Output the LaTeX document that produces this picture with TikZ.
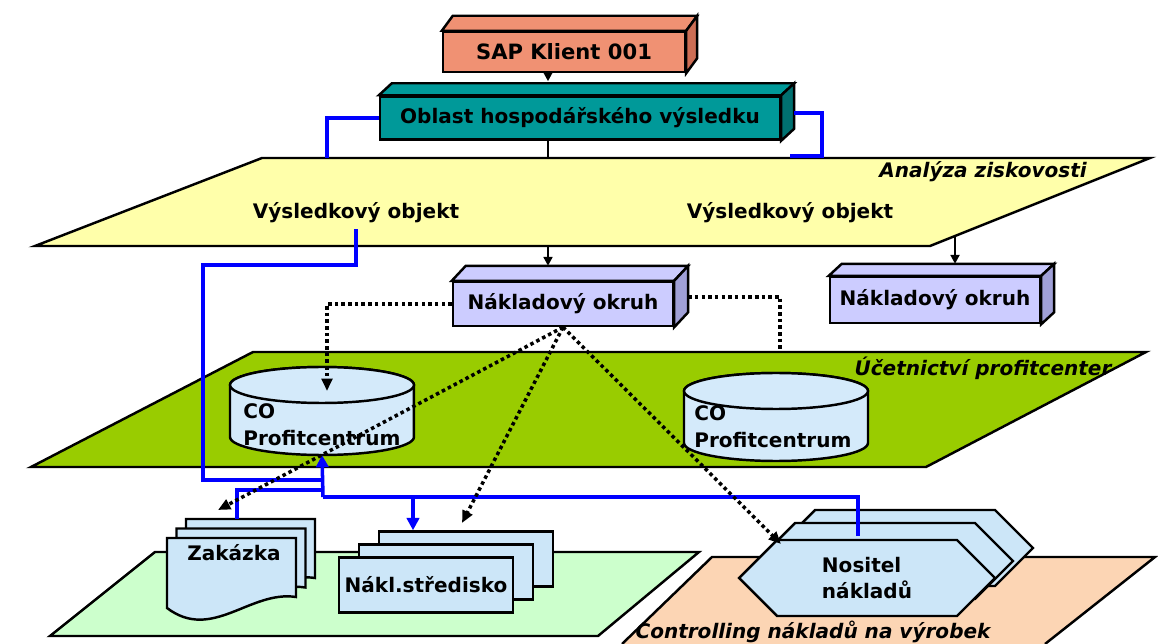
\documentclass[tikz,border=0pt]{standalone}
\usepackage{fontspec}
\setmainfont{DejaVu Sans}[BoldFont={DejaVu Sans Bold}, ItalicFont={DejaVu Sans Oblique}, BoldItalicFont={DejaVu Sans Bold Oblique}]
\usepackage{xcolor}
\usepackage{tikz}
\usetikzlibrary{shapes.symbols, arrows.meta, calc}
\definecolor{sapfill}{RGB}{240,145,115}
\definecolor{sapside}{RGB}{205,110,85}
\definecolor{oblfill}{RGB}{0,153,153}
\definecolor{oblside}{RGB}{0,112,112}
\definecolor{yelplane}{RGB}{255,255,170}
\definecolor{okfill}{RGB}{204,204,255}
\definecolor{okside}{RGB}{160,160,215}
\definecolor{grnplane}{RGB}{153,204,0}
\definecolor{cylfill}{RGB}{212,234,250}
\definecolor{ltgrnplane}{RGB}{204,255,204}
\definecolor{salplane}{RGB}{252,213,180}
\definecolor{docfill}{RGB}{204,230,248}
\definecolor{linkblue}{RGB}{0,0,255}
\tikzset{
  cube/.style={rectangle, draw=black, line width=1.4pt, align=center, inner sep=0pt,
               font=\fontsize{11.4}{13}\selectfont\bfseries},
  plane/.style={draw=black, line width=1.4pt},
  planelbl/.style={font=\fontsize{11.4}{13}\selectfont\bfseries\itshape},
  lbl/.style={font=\fontsize{11.4}{13}\selectfont\bfseries},
  cyltxt/.style={font=\fontsize{11.4}{15.5}\selectfont\bfseries, align=left, anchor=north west, inner sep=0pt},
  cylbody/.style={draw=black, line width=1.4pt, fill=cylfill},
  blk/.style={-{Triangle[length=5pt,width=5pt]}, line width=1.3pt},
  blu/.style={draw=linkblue, line width=2pt},
  bluarr/.style={blu, -{Triangle[length=7pt,width=7pt]}},
  dots/.style={line width=2pt, dash pattern=on 2pt off 1.8pt, -{Triangle[length=7pt,width=6pt]}},
  doc/.style={draw=black, line width=1.4pt, fill=docfill},
  docbox/.style={rectangle, draw=black, line width=1.4pt, fill=docfill, minimum width=3.48cm,
                 minimum height=1.1cm, inner sep=0pt, font=\fontsize{11.4}{13}\selectfont\bfseries},
  hexa/.style={signal, signal to=west and east, signal pointer angle=90, draw=black, line width=1.4pt,
               fill=docfill, minimum width=5.12cm, minimum height=1.52cm, inner sep=0pt, align=left,
               font=\fontsize{11.4}{15}\selectfont\bfseries},
}
\newcommand{\cubeface}[5]{\draw[line width=1.4pt, fill=#4] (#1.north west) -- ++(#2,-#3) -- ($(#1.north east)+(#2,-#3)$) -- (#1.north east) -- cycle;
  \draw[line width=1.4pt, fill=#5] (#1.north east) -- ($(#1.north east)+(#2,-#3)$) -- ($(#1.south east)+(#2,-#3)$) -- (#1.south east) -- cycle;}
\newcommand{\pcyl}[3]{\coordinate (#1top) at (#2,#3);
  \draw[cylbody] ($(#1top)+(-92,0)$) -- ++(0,52) arc[start angle=180, end angle=360, x radius=1.84cm, y radius=0.36cm] -- ++(0,-52) arc[start angle=0, end angle=180, x radius=1.84cm, y radius=0.36cm] -- cycle;
  \draw[cylbody] (#1top) ellipse[x radius=1.84cm, y radius=0.36cm];
  \coordinate (#1bot) at ($(#1top)+(0,70)$);}

\begin{document}
\begin{tikzpicture}[x=0.02cm, y=-0.02cm]
\useasboundingbox (0,0) rectangle (1158,644);
\draw[plane, fill=yelplane] (262,158) -- (1150,158) -- (930,246) -- (35,246) -- cycle;
\draw[plane, fill=grnplane] (253,352) -- (1146,352) -- (926,467) -- (31,467) -- cycle;
\draw[plane, fill=ltgrnplane] (155,552) -- (699,552) -- (598,636) -- (50,636) -- cycle;
\fill[salplane] (712,557) -- (1155,557) -- (1045,644) -- (622,644) -- cycle;
\draw[plane] (622,644) -- (712,557) -- (1155,557) -- (1045,644);
\node[planelbl] (az) at (983,172) {Analýza ziskovosti};
\node[lbl] (vo1) at (356,213) {Výsledkový objekt};
\node[lbl] (vo2) at (790,213) {Výsledkový objekt};
\node[planelbl] (ucp) at (983,368) {Účetnictví profitcenter};
\node[planelbl] (cnv) at (813,632) {Controlling nákladů na výrobek};
\pcyl{pcl}{322}{385}
\pcyl{pcr}{776}{391}
\node[cyltxt] (pcltxt) at (243,403) {CO\\Profitcentrum};
\node[cyltxt] (pcrtxt) at (694,405) {CO\\Profitcentrum};
\node[cube, fill=sapfill, minimum width=4.84cm, minimum height=0.8cm, font=\fontsize{12}{14}\selectfont\bfseries] (sap) at (564,52) {SAP Klient 001};
\cubeface{sap}{11}{15}{sapfill}{sapside}
\node[cube, fill=oblfill, minimum width=8cm, minimum height=0.86cm] (obl) at (580,118) {Oblast hospodářského výsledku};
\cubeface{obl}{13}{12}{oblfill}{oblside}
\node[cube, fill=okfill, minimum width=4.4cm, minimum height=0.88cm] (no1) at (563,304) {Nákladový okruh};
\cubeface{no1}{14}{15}{okfill}{okside}
\node[cube, fill=okfill, minimum width=4.2cm, minimum height=0.92cm] (no2) at (935,300) {Nákladový okruh};
\cubeface{no2}{13}{12}{okfill}{okside}
\foreach \s in {19,9.5,0}
  \draw[doc, shift={(\s,-\s)}] (167,538) -- (296,538) -- (296,597) .. controls (250,590) and (212,642) .. (167,608) -- cycle;
\node[lbl] (zak) at (234,553) {Zakázka};
\coordinate (zaktop) at (237,519);
\node[docbox] (st3) at (466,559) {};
\node[docbox] (st2) at (446,572) {};
\node[docbox] (st1) at (426,585) {Nákl.středisko};
\node[hexa] (nos3) at (905,548) {};
\node[hexa] (nos2) at (885,561) {};
\node[hexa] (nos) at (867,578) {Nositel\\nákladů};
\coordinate (nostop) at (858,536);
\draw[blk] ($(sap.south)+(-16,0)$) -- ++(0,8);
\draw[line width=1.3pt] ($(obl.south)+(-32,0)$) -- (548,158);
\draw[blu] (obl.west) -| (327,158);
\draw[blu] ($(obl.east)+(13,-5)$) -- (822,113) -- (822,156) -- (790,156);
\draw[blk] (548,246) -- ($(no1.north)+(-15,-15)$);
\draw[blk] (955,236) -- ($(no2.north)+(20,-12)$);
\draw[blu] (vo1.south) |- (203,265) -- (203,480) -- (323,480);
\draw[bluarr] (323,497) -- (pclbot);
\draw[blu] (zaktop) |- (323,490);
\draw[blu] (nostop) |- (323,497);
\draw[bluarr] (413,497) -- (st3.north -| 413,497);
\draw[dots] (no1.west) -| ($(pcltop)+(5,6)$);
\draw[dots, -] ($(no1.east)+(14,-7)$) -| (780,352);
\draw[dots] (no1.south) -- (218,510);
\draw[dots] (no1.south) -- (462,523);
\draw[dots] (no1.south) -- (781,544);
\end{tikzpicture}
\end{document}
